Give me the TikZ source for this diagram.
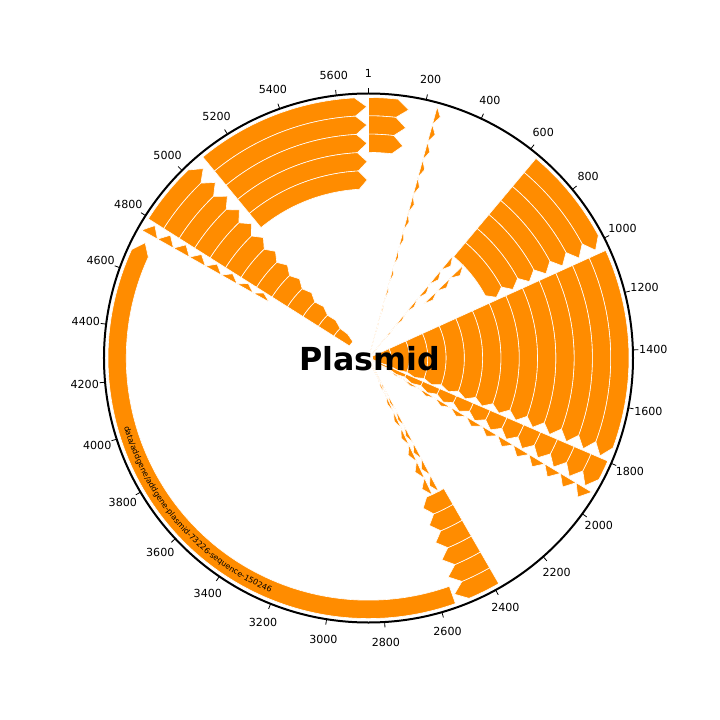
\documentclass[tikz,border=0pt]{standalone}
\usepackage{fontspec}
\setmainfont{DejaVu Sans}
\usetikzlibrary{decorations.text}
\definecolor{featorange}{HTML}{FF8C00}

% one feature arrow: start deg, end deg (clockwise from top), track
\newcommand{\featarrow}[3]{%
  \pgfmathsetmacro{\ro}{\rtop-(#3-1)*\tw}%
  \pgfmathsetmacro{\ri}{\ro-\tw}%
  \pgfmathsetmacro{\rmid}{(\ro+\ri)/2}%
  \pgfmathsetmacro{\hl}{min(\headlen,#2-#1)}%
  \pgfmathsetmacro{\aA}{90-#1}%
  \pgfmathsetmacro{\aB}{90-#2+\hl}%
  \pgfmathsetmacro{\aT}{90-#2}%
  \filldraw[feat] (\aA:\ro pt) arc[start angle=\aA, end angle=\aB, radius=\ro pt]
    -- (\aT:\rmid pt) -- (\aB:\ri pt)
    arc[start angle=\aB, end angle=\aA, radius=\ri pt] -- cycle;
}
\newcommand{\ticklabelfont}{\fontsize{11.1}{13}\selectfont}
\newcommand{\recordfont}{\fontsize{7.9}{10}\selectfont}

\begin{document}
\begin{tikzpicture}[
  feat/.style={fill=featorange, draw=white, line width=0.6pt, line join=miter},
  ticklabel/.style={font=\ticklabelfont, inner sep=0pt},
]
\useasboundingbox (-368.5pt,-362pt) rectangle (351.5pt,358pt);

% sequence length and ring sizes
\pgfmathsetmacro{\seqlen}{5711}
\pgfmathsetmacro{\rcirc}{264.5}
\pgfmathsetmacro{\rtop}{260.5}
\pgfmathsetmacro{\tw}{18.3}
\pgfmathsetmacro{\headlen}{2.7}

% ---- features: start/end (deg) / first track / last track ----
\foreach \fs/\fe/\ka/\kb in {
  0/9.2/1/3,
  15.3/16.6/1/14,
  40.0/64.6/1/7,
  39.5/41.8/8/14,
  45.6/48.0/8/10,
  65.6/112.9/1/14,
  113.3/120.5/1/14,
  121.0/123.6/1/14,
  150.0/160.0/1/6,
  152.2/154.5/7/14,
  155.0/157.8/7/14,
  160.5/297.3/1/1,
  299.4/301.8/1/8,
  302.3/318.9/1/13,
  320.5/359.6/1/5%
}{
  \foreach \k in {\ka,...,\kb}{
    \featarrow{\fs}{\fe}{\k}
  }
}

% ---- record name along the long feature ----
\path[decorate, decoration={text along path, text align=center,
  text={|\recordfont|data/addgene/addgene-plasmid-73226-sequence-150246}}]
  (-166.5:254pt) arc[start angle=-166.5, end angle=-110.5, radius=254pt];

% ---- outer circle and ticks ----
\draw[line width=2pt] (0,0) circle[radius=\rcirc pt];
\foreach \b in {0,200,...,5600}{
  \pgfmathsetmacro{\ang}{90-\b/\seqlen*360}
  \draw[line width=0.8pt] (\ang:\rcirc pt) -- (\ang:270pt);
  \node[ticklabel] (lab\b) at (\ang:285pt) {\ifnum\b=0 1\else\b\fi};
}

% ---- title ----
\node[font=\fontsize{31.7}{36}\selectfont\bfseries] (title) at (1pt,-1pt) {Plasmid};

\end{tikzpicture}
\end{document}
